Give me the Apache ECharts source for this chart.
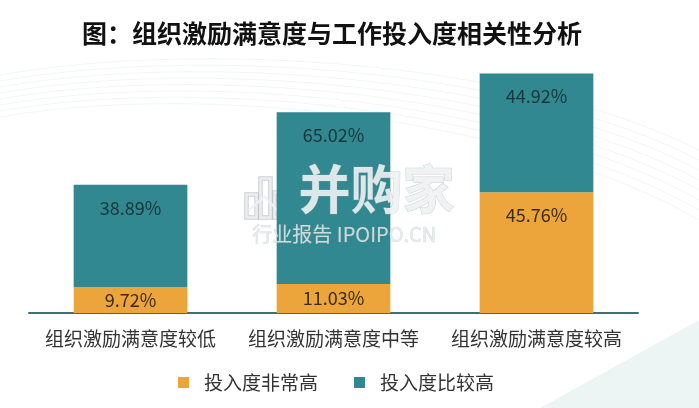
<!DOCTYPE html>
<html>
<head>
<meta charset="utf-8">
<script src="https://cdn.jsdelivr.net/npm/echarts@6/dist/echarts.min.js"></script>
<style>html,body{margin:0;padding:0;background:#fff}#c{width:699px;height:408px}</style>
</head>
<body>
<div id="c"></div>
<script>
var categories = ['组织激励满意度较低', '组织激励满意度中等', '组织激励满意度较高'];
var seriesNames = ['投入度非常高', '投入度比较高'];
var veryHigh = [9.72, 11.03, 45.76];
var fairlyHigh = [38.89, 65.02, 44.92];
var titleText = '图：组织激励满意度与工作投入度相关性分析';

var FONT = '"Noto Sans CJK SC", "Noto Sans", sans-serif';
var chart = echarts.init(document.getElementById('c'));

function labelFor(v) {
  return v < 20 ? { position: 'inside' } : { position: 'insideTop', distance: 14 };
}
function fmt(p) { return p.value.toFixed(2) + '%'; }

var wm = 'rgba(238,242,243,0.9)';
var wmEdge = 'rgba(160,170,175,0.55)';
var bgCurves = [];
for (var i = 0; i < 8; i++) {
  bgCurves.push({ type: 'bezierCurve', silent: true, z: -10,
    shape: { x1: 0, y1: 75 + i * 6, cpx1: 200, cpy1: 40 + i * 6, cpx2: 520, cpy2: 60 + i * 8, x2: 699, y2: 150 + i * 10 },
    style: { stroke: 'rgba(180,200,205,0.18)', lineWidth: 1, fill: null } });
}
function iconRect(x, y, h) {
  return [
    { type: 'rect', shape: { x: x, y: y, width: 10, height: h }, style: { fill: 'none', stroke: wmEdge, lineWidth: 4.5 } },
    { type: 'rect', shape: { x: x, y: y, width: 10, height: h }, style: { fill: 'none', stroke: wm, lineWidth: 2.5 } }
  ];
}

chart.setOption({
  backgroundColor: '#ffffff',
  title: {
    text: titleText,
    left: 327, top: 16, textAlign: 'center',
    textStyle: { fontFamily: FONT, fontSize: 25, fontWeight: 'bold', color: '#111' }
  },
  legend: {
    data: seriesNames,
    bottom: 11, left: 173,
    itemWidth: 11, itemHeight: 11, itemGap: 36,
    icon: 'rect',
    textStyle: { fontFamily: FONT, fontSize: 19, color: '#333', padding: [0, 0, 0, 10] }
  },
  grid: { left: 29, right: 61, top: 49, bottom: 95 },
  xAxis: {
    type: 'category', data: categories,
    axisLine: { lineStyle: { color: '#3f6e75', width: 2 } },
    axisTick: { show: false },
    axisLabel: { interval: 0, hideOverlap: false, fontFamily: FONT, fontSize: 19, color: '#333', margin: 16 }
  },
  yAxis: { type: 'value', min: 0, max: 100, show: false, splitLine: { show: false } },
  series: [
    {
      name: seriesNames[0], type: 'bar', stack: 'a', barWidth: '56%',
      itemStyle: { color: '#eca53a' },
      label: { show: true, fontFamily: FONT, fontSize: 18, color: '#3a2a10', formatter: fmt },
      data: veryHigh.map(function (v) { return { value: v, label: labelFor(v) }; })
    },
    {
      name: seriesNames[1], type: 'bar', stack: 'a', barWidth: '56%',
      itemStyle: { color: '#318890' },
      label: { show: true, fontFamily: FONT, fontSize: 18, color: '#17363a', formatter: fmt },
      data: fairlyHigh.map(function (v) { return { value: v, label: labelFor(v) }; })
    }
  ],
  graphic: bgCurves.concat([
    { type: 'polygon', silent: true, z: -10, shape: { points: [[540, 408], [699, 320], [699, 408]] }, style: { fill: 'rgba(200,225,222,0.35)' } },
    { type: 'text', left: 298, top: 163, z: 10, style: { text: '并购家', font: 'bold 52px ' + FONT, fill: wm, stroke: 'rgba(150,160,165,0.45)', lineWidth: 1 } },
    { type: 'text', left: 252, top: 224, z: 10, style: { text: '行业报告 IPOIPO.CN', font: '20px ' + FONT, fill: 'rgba(228,232,234,0.85)', stroke: 'rgba(150,160,165,0.4)', lineWidth: 0.6 } },
    { type: 'group', left: 244, top: 172, z: 10, children: [].concat(
      iconRect(0, 24, 23), iconRect(14, 8, 39), iconRect(28, 22, 25), iconRect(42, 4, 43),
      [{ type: 'polyline', shape: { points: [[2, 40], [18, 26], [31, 40], [50, 24]] }, style: { fill: null, stroke: wm, lineWidth: 2.5 } }]
    ) }
  ])
});
</script>
</body>
</html>
